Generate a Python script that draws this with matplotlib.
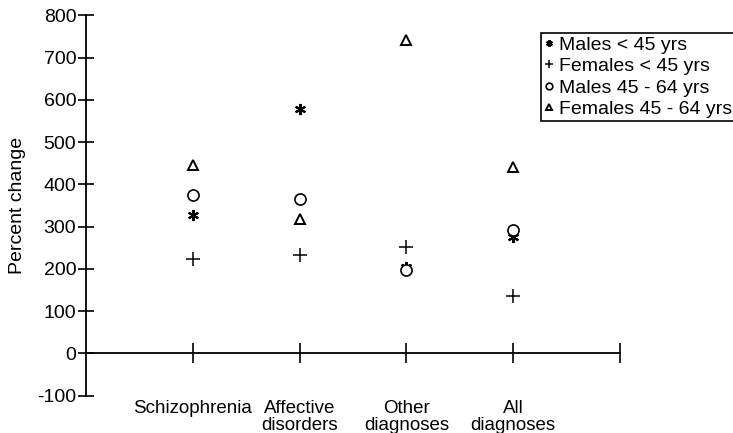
import matplotlib
matplotlib.use("Agg")
import matplotlib.pyplot as plt

plt.rcParams['font.family'] = ['Liberation Sans', 'DejaVu Sans']
plt.rcParams['axes.unicode_minus'] = False

categories = ["Schizophrenia", "Affective\ndisorders", "Other\ndiagnoses", "All\ndiagnoses"]
males_lt45 = [327, 578, 203, 276]
females_lt45 = [223, 233, 252, 136]
males_45_64 = [374, 364, 197, 292]
females_45_64 = [445, 318, 741, 442]
yticks = [-100, 0, 100, 200, 300, 400, 500, 600, 700, 800]

fig = plt.figure(figsize=(7.33, 4.33), dpi=100)
ax = fig.add_axes([0.1173, 0.0866, 0.7285, 0.8781])

x = [1, 2, 3, 4]
asterisk = (6, 2, 0)
ax.plot(x, males_lt45, linestyle='none', marker=asterisk, markersize=8,
        markeredgewidth=1.5, color='black', label='Males < 45 yrs', clip_on=False)
ax.plot(x, females_lt45, linestyle='none', marker='+', markersize=10,
        markeredgewidth=1.1, color='black', label='Females < 45 yrs', clip_on=False)
ax.plot(x, males_45_64, linestyle='none', marker='o', markersize=8,
        markerfacecolor='white', markeredgewidth=1.2, color='black',
        label='Males 45 - 64 yrs', clip_on=False)
ax.plot(x, females_45_64, linestyle='none', marker='^', markersize=6.5,
        markerfacecolor='white', markeredgewidth=1.4, color='black',
        label='Females 45 - 64 yrs', clip_on=False)

ax.set_xlim(0, 5)
ax.set_ylim(-100, 800)
ax.spines['top'].set_visible(False)
ax.spines['right'].set_visible(False)
ax.spines['bottom'].set_position(('data', 0))
ax.spines['left'].set_linewidth(1.3)
ax.spines['bottom'].set_linewidth(1.3)

ax.set_yticks(yticks)
ax.set_yticklabels([str(v) for v in yticks])
ax.set_xticks([1, 2, 3, 4, 5])
ax.set_xticklabels(categories + [""])
ax.tick_params(axis='y', direction='inout', length=12, width=1.2, labelsize=14, pad=1)
ax.tick_params(axis='x', direction='inout', length=14, width=1.2, labelsize=13.5, pad=27)
for lbl in ax.get_xticklabels():
    lbl.set_linespacing(0.95)

ax.set_ylabel("Percent change", fontsize=14, labelpad=8)

leg = fig.legend(loc='upper left', bbox_to_anchor=(0.7377, 0.9238), fontsize=14,
                 frameon=True, fancybox=False, edgecolor='black', framealpha=1,
                 handlelength=0.5, handletextpad=0.3, labelspacing=0.2,
                 borderpad=0.15, borderaxespad=0, markerscale=0.6)
leg.get_frame().set_linewidth(1.2)

fig.savefig("out.png", dpi=100)
